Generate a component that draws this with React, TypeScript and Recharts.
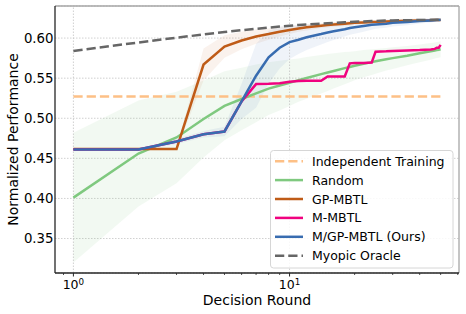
import React from 'react';
import {
  ComposedChart,
  Line,
  Area,
  XAxis,
  YAxis,
  CartesianGrid,
  ReferenceLine,
} from 'recharts';

// ---- data ----
const decisionRounds = [1, 2, 3, 4, 5, 6, 7, 8, 9, 10, 11, 12, 14, 15, 16, 18, 19, 20, 22, 24, 25, 28, 30, 35, 40, 45, 47, 48, 49, 50];

const independentTraining = 0.527;

const randomMean = [0.401, 0.456, 0.476, 0.499, 0.5155, 0.524, 0.531, 0.537, 0.5408, 0.5443, 0.5475, 0.5503, 0.555, 0.557, 0.559, 0.5625, 0.564, 0.5655, 0.568, 0.57, 0.571, 0.5735, 0.575, 0.578, 0.581, 0.5835, 0.5845, 0.585, 0.5855, 0.586];
const randomStd = [0.081, 0.066, 0.057, 0.048, 0.043, 0.039, 0.036, 0.033, 0.031, 0.029, 0.027, 0.026, 0.024, 0.023, 0.022, 0.02, 0.019, 0.018, 0.017, 0.016, 0.0155, 0.014, 0.0135, 0.012, 0.011, 0.0105, 0.01, 0.01, 0.01, 0.01];

const gpMean = [0.4615, 0.4615, 0.4615, 0.567, 0.5895, 0.597, 0.602, 0.605, 0.608, 0.61, 0.612, 0.6135, 0.6155, 0.6163, 0.617, 0.618, 0.6185, 0.619, 0.6195, 0.62, 0.6202, 0.6207, 0.621, 0.6215, 0.622, 0.6222, 0.6224, 0.6225, 0.6225, 0.6226];
const gpStd = [0.001, 0.001, 0.001, 0.02, 0.014, 0.011, 0.009, 0.007, 0.006, 0.005, 0.004, 0.004, 0.003, 0.003, 0.003, 0.003, 0.003, 0.002, 0.002, 0.002, 0.002, 0.002, 0.002, 0.002, 0.002, 0.002, 0.002, 0.002, 0.002, 0.002];

const mMean = [0.461, 0.461, 0.471, 0.48, 0.4835, 0.521, 0.5426, 0.543, 0.5438, 0.5455, 0.5465, 0.5467, 0.5467, 0.552, 0.552, 0.552, 0.5685, 0.569, 0.569, 0.5695, 0.583, 0.5835, 0.584, 0.5845, 0.585, 0.5858, 0.5865, 0.588, 0.588, 0.5915];

const mgpMean = [0.461, 0.461, 0.471, 0.48, 0.4835, 0.521, 0.553, 0.576, 0.588, 0.595, 0.598, 0.601, 0.605, 0.607, 0.6085, 0.611, 0.6125, 0.6135, 0.615, 0.6165, 0.617, 0.618, 0.619, 0.62, 0.6213, 0.622, 0.6223, 0.6225, 0.6226, 0.6228];
const mgpStd = [0.001, 0.001, 0.003, 0.004, 0.006, 0.022, 0.04, 0.033, 0.026, 0.021, 0.018, 0.016, 0.013, 0.012, 0.011, 0.009, 0.0085, 0.008, 0.007, 0.006, 0.0055, 0.005, 0.0045, 0.004, 0.003, 0.0025, 0.002, 0.002, 0.002, 0.002];

const oracleMean = [0.584, 0.5945, 0.6005, 0.6045, 0.6075, 0.6098, 0.6115, 0.613, 0.6143, 0.6155, 0.6163, 0.617, 0.618, 0.6185, 0.619, 0.6197, 0.62, 0.6203, 0.6208, 0.6212, 0.6214, 0.6218, 0.622, 0.6223, 0.6225, 0.6227, 0.6228, 0.6228, 0.6229, 0.623];

const xTicks = [0.9, 1, 2, 3, 4, 5, 6, 7, 8, 9, 10, 20, 30, 40, 50, 60];
const xMajor = [1, 10];
const xMajorExp = ['0', '1'];
const yTicks = [0.35, 0.4, 0.45, 0.5, 0.55, 0.6];
const xDomain = [0.822, 60.8];
const yDomain = [0.307, 0.64];

const seriesNames = ['Independent Training', 'Random', 'GP-MBTL', 'M-MBTL', 'M/GP-MBTL (Ours)', 'Myopic Oracle'];
const seriesColors = ['#fdc086', '#7fc97f', '#bf5b17', '#f0027f', '#386cb0', '#666666'];
const seriesDashed = [true, false, false, false, false, true];

const data = decisionRounds.map((x, i) => ({
  x,
  independent: independentTraining,
  random: randomMean[i],
  randomBand: [randomMean[i] - randomStd[i], randomMean[i] + randomStd[i]],
  gp: gpMean[i],
  gpBand: [gpMean[i] - gpStd[i], gpMean[i] + gpStd[i]],
  m: mMean[i],
  mgp: mgpMean[i],
  mgpBand: [mgpMean[i] - mgpStd[i], mgpMean[i] + mgpStd[i]],
  oracle: oracleMean[i],
}));

const FONT = '"DejaVu Sans", sans-serif';
const DASH = '9.25 4';

const XTick = (props: any) => {
  const { x, y, payload } = props;
  const idx = xMajor.indexOf(payload.value);
  const major = idx >= 0;
  return (
    <g>
      <line x1={x} y1={y} x2={x} y2={y + (major ? 3.5 : 2)} stroke="#262626" strokeWidth={major ? 1 : 0.8} />
      {major && (
        <text x={x} y={y + 16.3} textAnchor="middle" fontFamily={FONT} fontSize={12.5} fill="#000">
          <tspan>10</tspan>
          <tspan fontSize={8.75} dy={-4}>{xMajorExp[idx]}</tspan>
        </text>
      )}
    </g>
  );
};

const YTick = (props: any) => {
  const { x, y, payload } = props;
  return (
    <text x={x - 1.5} y={y} dy={4.6} textAnchor="end" fontFamily={FONT} fontSize={13.3} fill="#000">
      {payload.value.toFixed(2)}
    </text>
  );
};

const YLabel = (props: any) => {
  const vb = props.viewBox;
  const cx = vb.x + 18;
  const cy = vb.y + vb.height / 2;
  return (
    <text x={cx} y={cy} transform={`rotate(-90 ${cx} ${cy})`} textAnchor="middle" fontFamily={FONT} fontSize={14} fill="#000">
      Normalized Performance
    </text>
  );
};

const XLabel = (props: any) => {
  const vb = props.viewBox;
  return (
    <text x={vb.x + vb.width / 2} y={vb.y + 31.5} textAnchor="middle" fontFamily={FONT} fontSize={14} fill="#000">
      Decision Round
    </text>
  );
};

const LegendBox = () => (
  <svg width={184} height={119} style={{ position: 'absolute', left: 270, top: 149.5 }}>
    <rect x={0.5} y={0.5} width={182.5} height={117.5} rx={3} ry={3} fill="rgba(255,255,255,0.85)" stroke="#d6d6d6" strokeWidth={1} />
    {seriesNames.map((name, i) => {
      const cy = 11.2 + i * 18.9;
      return (
        <g key={name}>
          <line x1={5} x2={33} y1={cy} y2={cy} stroke={seriesColors[i]} strokeWidth={2.5} strokeDasharray={seriesDashed[i] ? DASH : undefined} />
          <text x={42} y={cy + 4.5} fontFamily={FONT} fontSize={12.5} fill="#000">{name}</text>
        </g>
      );
    })}
  </svg>
);

export default function App() {
  return (
    <div style={{ position: 'absolute', left: 0, top: 0, width: 466, height: 314, background: '#fff' }}>
      <ComposedChart width={466} height={314} data={data} margin={{ top: 6, right: 7, bottom: 0, left: 0 }}>
        <CartesianGrid vertical={false} stroke="#c4c4c4" strokeWidth={0.8} strokeDasharray="1.5 1.5" />
        <ReferenceLine x={xMajor[0]} stroke="#c4c4c4" strokeWidth={0.8} strokeDasharray="1.5 1.5" />
        <ReferenceLine x={xMajor[1]} stroke="#c4c4c4" strokeWidth={0.8} strokeDasharray="1.5 1.5" />
        <XAxis
          dataKey="x"
          type="number"
          scale="log"
          domain={xDomain}
          allowDataOverflow
          ticks={xTicks}
          interval={0}
          tickSize={0}
          tickMargin={0}
          tick={XTick}
          height={41}
          axisLine={{ stroke: '#262626', strokeWidth: 1.3 }}
          label={<XLabel />}
        />
        <YAxis
          type="number"
          domain={yDomain}
          allowDataOverflow
          ticks={yTicks}
          interval={0}
          tickSize={0}
          tickMargin={0}
          tick={YTick}
          width={55}
          axisLine={{ stroke: '#262626', strokeWidth: 1.3 }}
          label={<YLabel />}
        />
        <ReferenceLine y={yDomain[1]} stroke="#a6a6a6" strokeWidth={1.3} />
        <ReferenceLine x={xDomain[1]} stroke="#a6a6a6" strokeWidth={1.3} />
        <Area dataKey="randomBand" type="linear" stroke="none" fill={seriesColors[1]} fillOpacity={0.1} isAnimationActive={false} />
        <Area dataKey="gpBand" type="linear" stroke="none" fill={seriesColors[2]} fillOpacity={0.08} isAnimationActive={false} />
        <Area dataKey="mgpBand" type="linear" stroke="none" fill={seriesColors[4]} fillOpacity={0.08} isAnimationActive={false} />
        <Line dataKey="independent" type="linear" stroke={seriesColors[0]} strokeWidth={2.5} strokeDasharray={DASH} dot={false} activeDot={false} isAnimationActive={false} />
        <Line dataKey="random" type="linear" stroke={seriesColors[1]} strokeWidth={2.5} dot={false} activeDot={false} isAnimationActive={false} />
        <Line dataKey="gp" type="linear" stroke={seriesColors[2]} strokeWidth={2.5} dot={false} activeDot={false} isAnimationActive={false} />
        <Line dataKey="m" type="linear" stroke={seriesColors[3]} strokeWidth={2.5} dot={false} activeDot={false} isAnimationActive={false} />
        <Line dataKey="mgp" type="linear" stroke={seriesColors[4]} strokeWidth={2.5} dot={false} activeDot={false} isAnimationActive={false} />
        <Line dataKey="oracle" type="linear" stroke={seriesColors[5]} strokeWidth={2.5} strokeDasharray={DASH} dot={false} activeDot={false} isAnimationActive={false} />
      </ComposedChart>
      <LegendBox />
    </div>
  );
}
